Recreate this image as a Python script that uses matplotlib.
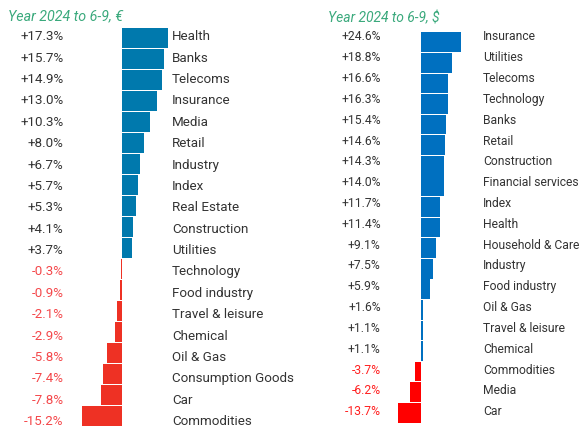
import matplotlib
matplotlib.use('Agg')
import matplotlib.pyplot as plt
import numpy as np

# Left panel data (EUR)
eur_names = ['Health', 'Banks', 'Telecoms', 'Insurance', 'Media', 'Retail',
             'Industry', 'Index', 'Real Estate', 'Construction', 'Utilities',
             'Technology', 'Food industry', 'Travel & leisure', 'Chemical',
             'Oil & Gas', 'Consumption Goods', 'Car', 'Commodities']
eur_values = [17.3, 15.7, 14.9, 13.0, 10.3, 8.0, 6.7, 5.7, 5.3, 4.1, 3.7,
              -0.3, -0.9, -2.1, -2.9, -5.8, -7.4, -7.8, -15.2]

# Right panel data (USD)
usd_names = ['Insurance', 'Utilities', 'Telecoms', 'Technology', 'Banks',
             'Retail', 'Construction', 'Financial services', 'Index', 'Health',
             'Household & Care', 'Industry', 'Food industry', 'Oil & Gas',
             'Travel & leisure', 'Chemical', 'Commodities', 'Media', 'Car']
usd_values = [24.6, 18.8, 16.6, 16.3, 15.4, 14.6, 14.3, 14.0, 11.7, 11.4,
              9.1, 7.5, 5.9, 1.6, 1.1, 1.1, -3.7, -6.2, -13.7]

W, H = 588, 430
plt.rcParams['font.family'] = ['Roboto', 'DejaVu Sans']
fig = plt.figure(figsize=(W / 100, H / 100), dpi=100)

GREEN = '#3aa97c'


def px_axes(x0, x1, y0, y1):
    # pixel box (top-left origin) -> figure fraction axes
    return fig.add_axes([x0 / W, 1 - y1 / H, (x1 - x0) / W, (y1 - y0) / H])


def panel(names, values, px0, px1, zero_px, scale, bar_top, bar_bot,
          lab_top, lab_bot, val_x, name_x, pos_col, neg_col, neg_txt, fs):
    n = len(names)
    vals = np.array(values)
    ax = px_axes(px0, px1, bar_top, bar_bot)
    ax.set_xlim(-(zero_px - px0) / scale, (px1 - zero_px) / scale)
    ax.set_ylim(n - 0.5, -0.5)
    cols = [pos_col if v >= 0 else neg_col for v in vals]
    ax.barh(np.arange(n), vals, height=0.96, color=cols, linewidth=0)
    ax.axis('off')

    # label axes: rows spaced a bit differently from the bars
    sp = (lab_bot - lab_top) / (n - 1)
    lx = px_axes(px0, px1, lab_top - sp / 2, lab_bot + sp / 2)
    lx.set_xlim(0, 1)
    lx.set_ylim(n - 0.5, -0.5)
    lx.axis('off')
    for i, (nm, v) in enumerate(zip(names, vals)):
        c = '#333333' if v >= 0 else neg_txt
        lx.text((val_x - px0) / (px1 - px0), i, '%+.1f%%' % v, ha='right',
                va='center', color=c, fontsize=fs)
        lx.text((name_x - px0) / (px1 - px0), i, nm, ha='left', va='center',
                color='#333333', fontsize=fs)


panel(eur_names, eur_values, 0, 300, 122.3, 2.67, 27.3, 426.7, 36.7, 421.7,
      63.5, 172, '#0079ad', '#ee3124', '#f4474a', 9.6)
panel(usd_names, usd_values, 300, 588, 420.7, 1.65, 32, 423, 37, 411.7,
      380.7, 483, '#0070c0', '#ff0000', '#ff2020', 8.7)

fig.text(8 / W, 1 - 16 / H, 'Year 2024 to 6-9, €', color=GREEN,
         fontsize=10.3, style='italic', va='center', ha='left')
fig.text(328 / W, 1 - 18 / H, 'Year 2024 to 6-9, $', color=GREEN,
         fontsize=10, style='italic', va='center', ha='left')

fig.savefig('out.png', dpi=100)
